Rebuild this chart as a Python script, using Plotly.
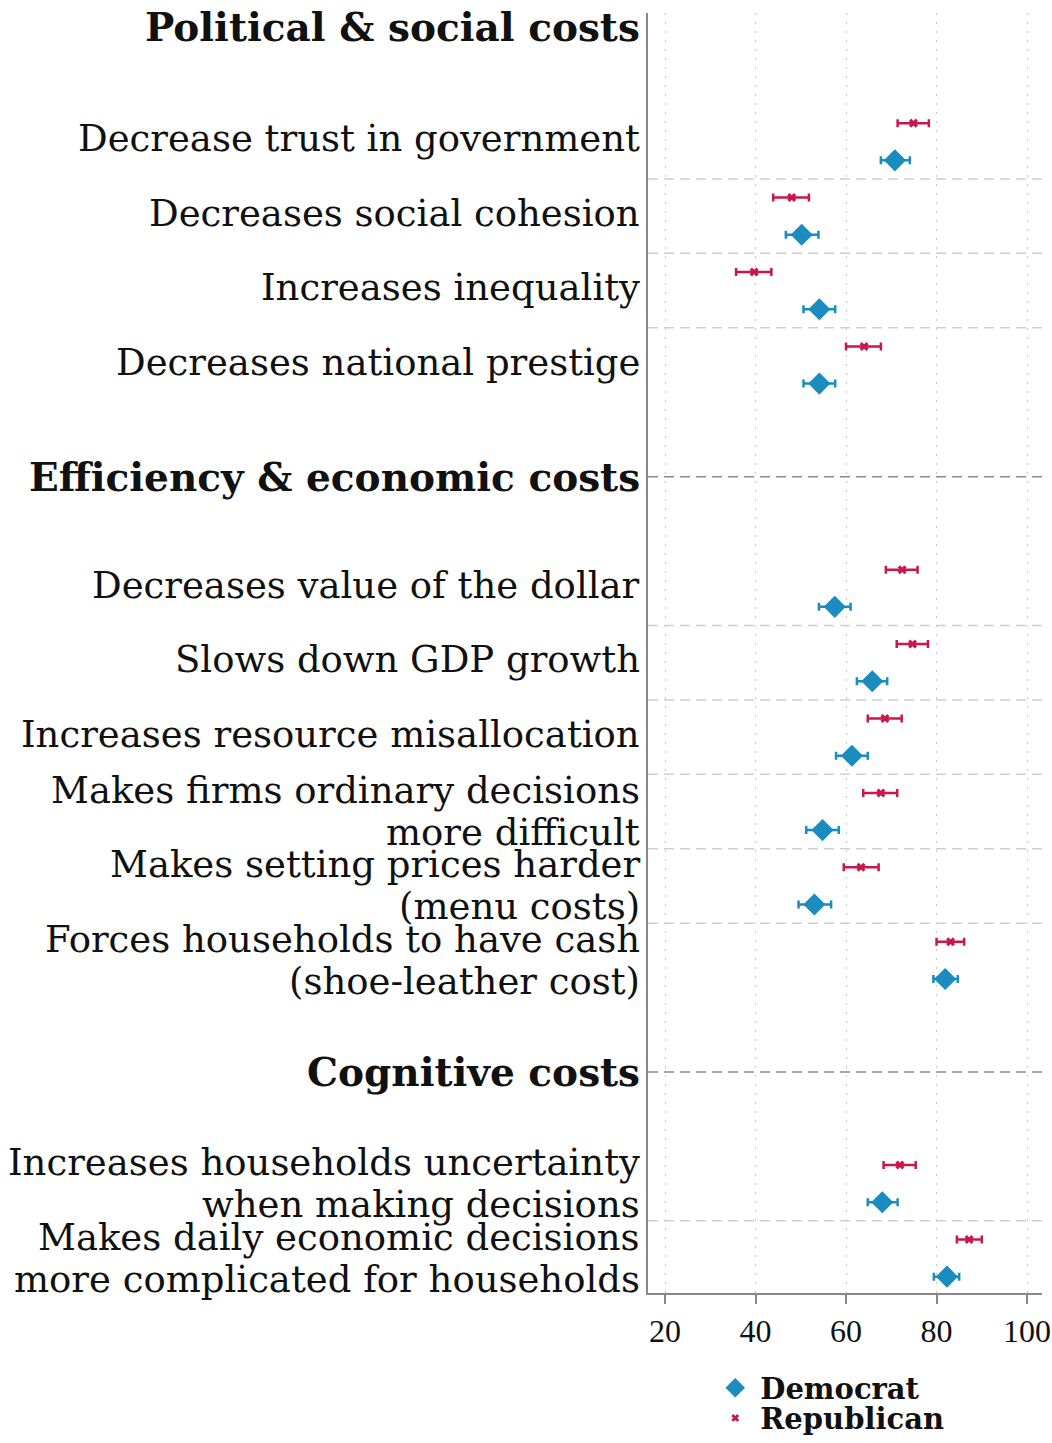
import plotly.graph_objects as go

# ---------------- data ----------------
groups = ["Political & social costs", "Efficiency & economic costs", "Cognitive costs"]
group_sizes = [4, 6, 2]
categories = [
    "Decrease trust in government",
    "Decreases social cohesion",
    "Increases inequality",
    "Decreases national prestige",
    "Decreases value of the dollar",
    "Slows down GDP growth",
    "Increases resource misallocation",
    "Makes firms ordinary decisions\nmore difficult",
    "Makes setting prices harder\n(menu costs)",
    "Forces households to have cash\n(shoe-leather cost)",
    "Increases households uncertainty\nwhen making decisions",
    "Makes daily economic decisions\nmore complicated for households",
]
dem_mean = [70.8, 50.2, 54.1, 54.1, 57.5, 65.8, 61.3, 54.8, 53.0, 81.9, 68.0, 82.3]
dem_lo   = [67.7, 46.7, 50.6, 50.6, 54.0, 62.4, 57.8, 51.2, 49.5, 79.3, 64.8, 79.4]
dem_hi   = [74.1, 53.9, 57.6, 57.6, 61.0, 69.1, 64.8, 58.4, 56.7, 84.7, 71.4, 85.0]
rep_mean = [74.9, 48.0, 39.7, 64.0, 72.4, 74.7, 68.6, 67.7, 63.3, 83.1, 71.9, 87.2]
rep_lo   = [71.4, 43.9, 35.7, 60.0, 68.8, 71.2, 64.8, 63.8, 59.5, 80.0, 68.3, 84.5]
rep_hi   = [78.3, 51.8, 43.5, 67.7, 75.8, 78.1, 72.3, 71.3, 67.2, 86.1, 75.4, 90.0]
x_ticks = [20, 40, 60, 80, 100]

# ---------------- styling ----------------
DEM_C = "#1a8cc0"
REP_C = "#c8184a"
FONT = "DejaVu Serif"
TICK_FONT = "Liberation Serif"
LABEL_SIZE = 37
HEAD_SIZE = 39

# vertical positions: each row = 1 unit, headers sit 1.5 units from neighbours
row_y = []
head_y = []
seps_light = []
ys_groups = []
cur = 0.0
for gi in reversed(range(len(groups))):
    n = group_sizes[gi]
    ys = [cur + (n - 1 - k) for k in range(n)]
    ys_groups.insert(0, ys)
    cur = cur + n - 1 + 1.5
    head_y.insert(0, cur)
    cur = cur + 1.5
for ys in ys_groups:
    row_y.extend(ys)
    for a in ys[1:]:
        seps_light.append(a + 0.5)

off = 0.25
fig = go.Figure()
fig.add_trace(go.Scatter(
    x=rep_mean, y=[v + off for v in row_y], mode="markers",
    marker=dict(symbol="x", size=8, color=REP_C),
    error_x=dict(type="data", symmetric=False,
                 array=[h - m for h, m in zip(rep_hi, rep_mean)],
                 arrayminus=[m - l for m, l in zip(rep_mean, rep_lo)],
                 color=REP_C, thickness=2.5, width=4),
    showlegend=False, name="Republican"))
fig.add_trace(go.Scatter(
    x=dem_mean, y=[v - off for v in row_y], mode="markers",
    marker=dict(symbol="diamond", size=17, color=DEM_C),
    error_x=dict(type="data", symmetric=False,
                 array=[h - m for h, m in zip(dem_hi, dem_mean)],
                 arrayminus=[m - l for m, l in zip(dem_mean, dem_lo)],
                 color=DEM_C, thickness=2.5, width=4),
    showlegend=False, name="Democrat"))
# legend-only entries
fig.add_trace(go.Scatter(x=[None], y=[None], mode="markers", name="<b>Democrat</b>",
                         marker=dict(symbol="diamond", size=15, color=DEM_C), legend="legend"))
fig.add_trace(go.Scatter(x=[None], y=[None], mode="markers", name="<b>Republican</b>",
                         marker=dict(symbol="x", size=7, color=REP_C), legend="legend2"))

shapes = []
for s in seps_light:
    shapes.append(dict(type="line", xref="paper", x0=0, x1=1, yref="y", y0=s, y1=s,
                       line=dict(color="#cfcfcf", width=1.5, dash="10px,6px"), layer="below"))
for h in head_y[1:]:
    shapes.append(dict(type="line", xref="paper", x0=0, x1=1, yref="y", y0=h, y1=h,
                       line=dict(color="#8a8a8a", width=1.5, dash="10px,6px"), layer="below"))

annotations = []
LINE_GAP = 21
for cat, y in zip(categories, row_y):
    lines = cat.split("\n")
    if len(lines) == 1:
        annotations.append(dict(text=lines[0], xref="paper", x=0, xanchor="right", xshift=-6,
                                yref="y", y=y, yanchor="middle", yshift=3, showarrow=False,
                                font=dict(family=FONT, size=LABEL_SIZE, color="#111")))
    else:
        for k, ln in enumerate(lines):
            annotations.append(dict(text=ln, xref="paper", x=0, xanchor="right", xshift=-6,
                                    yref="y", y=y, yanchor="middle",
                                    yshift=LINE_GAP if k == 0 else -LINE_GAP, showarrow=False,
                                    font=dict(family=FONT, size=LABEL_SIZE, color="#111")))
for i, (g, y) in enumerate(zip(groups, head_y)):
    annotations.append(dict(text="<b>" + g + "</b>", xref="paper", x=0, xanchor="right", xshift=-6,
                            yref="y", y=y, yanchor="middle", yshift=(3 if i == 0 else 0),
                            showarrow=False, font=dict(family=FONT, size=HEAD_SIZE, color="#111")))

leg_common = dict(xanchor="left", yanchor="middle", itemwidth=40,
                  font=dict(family=FONT, size=29, color="#111"), bgcolor="rgba(0,0,0,0)")
fig.update_layout(
    width=1052, height=1443,
    margin=dict(l=648, r=10, t=13, b=150, autoexpand=False),
    paper_bgcolor="white", plot_bgcolor="white",
    shapes=shapes, annotations=annotations,
    legend=dict(x=0.158, y=-0.0742, **leg_common),
    legend2=dict(x=0.158, y=-0.0977, **leg_common),
    font=dict(family=FONT),
)
fig.update_xaxes(range=[16.24, 103.3], tickvals=x_ticks, ticks="outside", ticklen=9,
                 tickwidth=1.5, tickcolor="#888", showline=True, linecolor="#888", linewidth=2,
                 showgrid=True, gridcolor="#c8c8c8", gridwidth=1, griddash="2px,7px",
                 zeroline=False, tickfont=dict(family=TICK_FONT, size=32, color="#111"))
fig.update_yaxes(range=[-0.47, 16.73], showticklabels=False, ticks="", showgrid=False,
                 zeroline=False, showline=True, linecolor="#888", linewidth=2)

# remove the default 8px page margin so the figure fills the window exactly
fig.write_html("out.html", config={"displayModeBar": False},
               post_script="document.body.style.margin='0';document.body.style.overflow='hidden';")
